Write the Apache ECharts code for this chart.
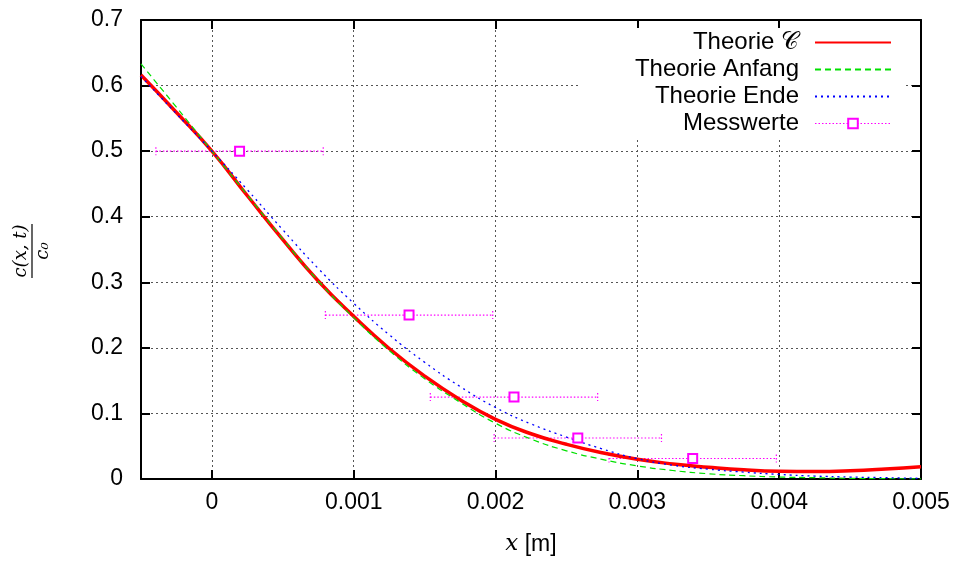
<!DOCTYPE html>
<html>
<head>
<meta charset="utf-8">
<script src="https://cdn.jsdelivr.net/npm/echarts@6.0.0/dist/echarts.min.js"></script>
<style>
  html, body { margin: 0; padding: 0; background: #fff; }
  #chart { width: 957px; height: 561px; }
</style>
</head>
<body>
<div id="chart"></div>
<script>
// x positions of the sampled curves [m]
const xs = [-0.0005, -0.00025, 0, 0.00025, 0.0005, 0.00075, 0.001, 0.00125, 0.0015, 0.00175,
  0.002, 0.00225, 0.0025, 0.00275, 0.003, 0.00325, 0.0035, 0.00375, 0.004, 0.00425,
  0.0045, 0.00475, 0.005]

// c(x,t)/c0
const theorieC = [0.616, 0.559, 0.500, 0.432, 0.365, 0.302, 0.248, 0.199, 0.157, 0.121,
  0.091, 0.069, 0.053, 0.040, 0.030, 0.023, 0.018, 0.014, 0.0118, 0.0114,
  0.0125, 0.0152, 0.0188]
const theorieAnfang = [0.633, 0.567, 0.500, 0.433, 0.366, 0.302, 0.246, 0.196, 0.153, 0.117,
  0.085, 0.061, 0.043, 0.030, 0.020, 0.013, 0.008, 0.005, 0.003, 0.002,
  0.001, 0.0005, 0.0002]
const theorieEnde = [0.614, 0.557, 0.500, 0.441, 0.380, 0.321, 0.268, 0.220, 0.178, 0.141,
  0.109, 0.084, 0.064, 0.046, 0.031, 0.021, 0.015, 0.0105, 0.007, 0.0045,
  0.003, 0.002, 0.001]

// measurements with horizontal error
const messX = [0.000195, 0.00139, 0.00213, 0.00258, 0.00339]
const messY = [0.5, 0.25, 0.125, 0.0625, 0.03125]
const messErr = [0.00059, 0.00059, 0.00059, 0.00059, 0.00059]

const yTicks = [0, 0.1, 0.2, 0.3, 0.4, 0.5, 0.6, 0.7]

const MAG = '#ff00ff'
const font = 'Liberation Sans'

const pairs = vals => xs.map((x, i) => [x, vals[i]])

const gridLine = { show: true, lineStyle: { color: '#555', width: 1, type: [2, 3] } }
const tick = { show: true, inside: true, length: 9, lineStyle: { color: '#000', width: 2 } }
const line = { show: true, onZero: false, lineStyle: { color: '#000', width: 2 } }
const noSymbol = { opacity: 0 }

let myChart = echarts.init(document.getElementById('chart'))
myChart.setOption({
  animation: false,
  backgroundColor: '#fff',
  grid: { left: 141, right: 36, top: 20, bottom: 81 },
  legend: {
    orient: 'vertical',
    align: 'right',
    right: 52,
    top: 28,
    padding: [1, 13, 1, 55],
    itemGap: 0,
    itemWidth: 76,
    itemHeight: 12,
    backgroundColor: '#fff',
    selectedMode: false,
    textStyle: { fontFamily: font, fontSize: 24, color: '#000', lineHeight: 27, padding: [0, 11, 0, 0] },
    data: [
      { name: 'Theorie 𝒞', itemStyle: noSymbol },
      { name: 'Theorie Anfang', itemStyle: noSymbol },
      { name: 'Theorie Ende', itemStyle: noSymbol },
      { name: 'Messwerte', lineStyle: { opacity: 1, width: 1, type: [1.5, 2], color: MAG } }
    ]
  },
  xAxis: [{
    type: 'value',
    min: -0.0005,
    max: 0.005,
    splitNumber: 5,
    axisLine: line,
    axisTick: tick,
    splitLine: gridLine,
    axisLabel: { showMinLabel: false, margin: 12, fontFamily: font, fontSize: 23, color: '#000' },
    name: '{i|x} [m]',
    nameLocation: 'middle',
    nameGap: 54,
    nameTextStyle: {
      fontFamily: font, fontSize: 23, color: '#000',
      rich: { i: { fontFamily: 'DejaVu Serif', fontStyle: 'italic', fontSize: 23 } }
    }
  }, {
    type: 'value',
    position: 'top',
    min: -0.0005,
    max: 0.005,
    splitNumber: 5,
    axisLine: line,
    axisTick: tick,
    splitLine: { show: false },
    axisLabel: { show: false }
  }],
  yAxis: [{
    type: 'value',
    min: yTicks[0],
    max: yTicks[yTicks.length - 1],
    interval: 0.1,
    axisLine: line,
    axisTick: tick,
    splitLine: gridLine,
    axisLabel: { margin: 18, fontFamily: font, fontSize: 23, color: '#000' }
  }, {
    type: 'value',
    position: 'right',
    min: yTicks[0],
    max: yTicks[yTicks.length - 1],
    interval: 0.1,
    axisLine: line,
    axisTick: tick,
    splitLine: { show: false },
    axisLabel: { show: false }
  }],
  graphic: [{
    type: 'group',
    x: 32,
    y: 251,
    rotation: Math.PI / 2,
    children: [
      { type: 'text', x: 0, y: -2, style: { text: 'c(x, t)', font: 'italic 18px "DejaVu Serif"', fill: '#000', align: 'center', verticalAlign: 'bottom' } },
      { type: 'line', shape: { x1: -27, y1: 0, x2: 27, y2: 0 }, style: { stroke: '#000', lineWidth: 1.2 } },
      { type: 'text', x: 0, y: 2, style: { text: 'c₀', font: 'italic 18px "DejaVu Serif"', fill: '#000', align: 'center', verticalAlign: 'top' } }
    ]
  }],
  series: [{
    name: 'Theorie 𝒞',
    type: 'line',
    smooth: true,
    symbol: 'none',
    data: pairs(theorieC),
    lineStyle: { color: '#ff0000', width: 3.5 },
    itemStyle: { color: '#ff0000' }
  }, {
    name: 'Theorie Anfang',
    type: 'line',
    smooth: true,
    symbol: 'none',
    data: pairs(theorieAnfang),
    lineStyle: { color: '#00e000', width: 1.2, type: [6, 4] },
    itemStyle: { color: '#00e000' }
  }, {
    name: 'Theorie Ende',
    type: 'line',
    smooth: true,
    symbol: 'none',
    data: pairs(theorieEnde),
    lineStyle: { color: '#0000ff', width: 1.3, type: [2, 4] },
    itemStyle: { color: '#0000ff' }
  }, {
    name: 'Messfehler',
    type: 'custom',
    silent: true,
    data: messX.map((x, i) => [x, messY[i], x - messErr[i], x + messErr[i]]),
    encode: { x: 0, y: 1 },
    renderItem: function (params, api) {
      const y = api.value(1)
      const lo = api.coord([api.value(2), y])
      const hi = api.coord([api.value(3), y])
      const style = { stroke: MAG, lineWidth: 1.2, lineDash: [1.5, 2] }
      return {
        type: 'group',
        children: [
          { type: 'line', shape: { x1: lo[0], y1: lo[1], x2: hi[0], y2: hi[1] }, style: style },
          { type: 'line', shape: { x1: lo[0], y1: lo[1] - 4, x2: lo[0], y2: lo[1] + 4 }, style: style },
          { type: 'line', shape: { x1: hi[0], y1: hi[1] - 4, x2: hi[0], y2: hi[1] + 4 }, style: style }
        ]
      }
    }
  }, {
    name: 'Messwerte',
    type: 'line',
    symbol: 'emptyRect',
    symbolSize: 9,
    showSymbol: true,
    silent: true,
    data: messX.map((x, i) => [x, messY[i]]),
    lineStyle: { opacity: 0 },
    itemStyle: { color: MAG, borderColor: MAG, borderWidth: 1.2 }
  }]
})
</script>
</body>
</html>
